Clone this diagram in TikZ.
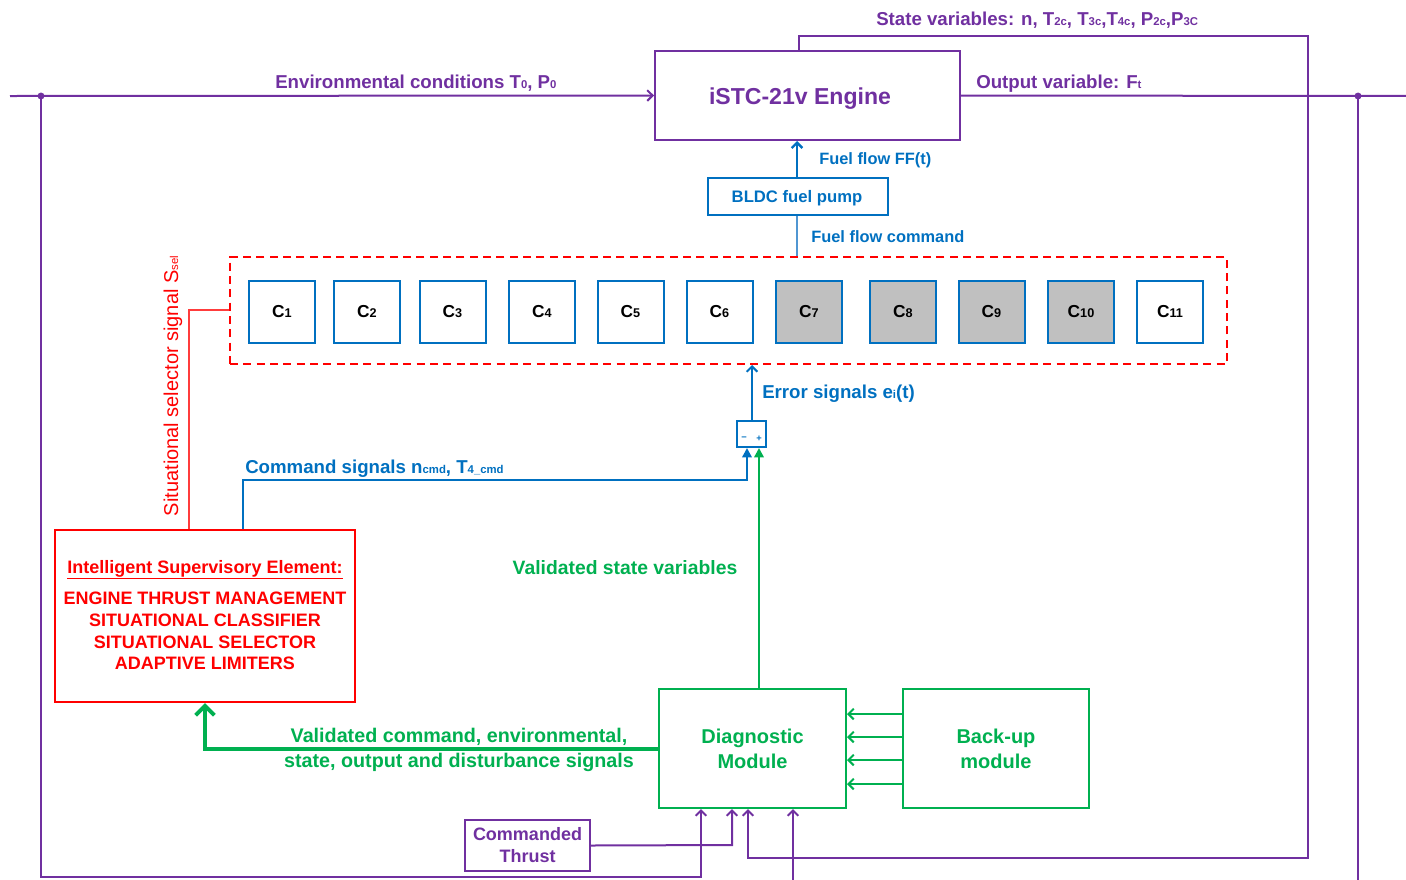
\documentclass[tikz,border=0pt]{standalone}
\usepackage{fontspec}
\setmainfont{Liberation Sans}
\usetikzlibrary{arrows.meta}
\definecolor{pur}{RGB}{112,48,160}
\definecolor{blu}{RGB}{0,112,192}
\definecolor{lblu}{RGB}{80,150,210}
\definecolor{grn}{RGB}{0,176,80}
\definecolor{rd}{RGB}{255,0,0}
\definecolor{lrd}{RGB}{255,60,60}
\definecolor{cgray}{RGB}{192,192,192}
\newcommand\lsub[1]{{\fontsize{8.5}{8.5}\selectfont #1}}
\newcommand\csub[1]{{\fontsize{9.5}{9.5}\selectfont #1}}
\tikzset{
  pline/.style={draw=pur, line width=1.5pt},
  pbox/.style={draw=pur, line width=1.5pt, text=pur, font=\bfseries, inner sep=0pt, align=center},
  bbox/.style={draw=blu, line width=1.5pt, text=blu, font=\bfseries, inner sep=0pt},
  gbox/.style={draw=grn, line width=1.5pt, text=grn, font=\bfseries\fontsize{15}{18.75}\selectfont, inner sep=0pt, align=center},
  cbox/.style={draw=blu, line width=1.5pt, minimum width=49.5pt, minimum height=46.5pt, font=\bfseries\fontsize{13}{15}\selectfont, inner sep=0pt},
  lab/.style={font=\bfseries\fontsize{14}{16}\selectfont, inner sep=0pt},
  slab/.style={font=\bfseries\fontsize{12.3}{14}\selectfont, inner sep=0pt},
  barb/.style={-{Straight Barb[length=4pt,width=8pt]}},
  bigbarb/.style={-{Straight Barb[length=7pt,width=14pt]}},
  tri/.style={-{Triangle[length=7pt,width=7pt]}},
}
\begin{document}
\begin{tikzpicture}[x=0.75pt,y=-0.75pt]
\useasboundingbox (0,0) rectangle (1406,879);

% ---------- nodes ----------
\node[pbox, minimum width=228.75pt, minimum height=66.75pt] (engine) at (807.5,95.5) {};
\node[text=pur, font=\bfseries\fontsize{17.3}{20}\selectfont, inner sep=0pt, anchor=base] (etext) at (800,104) {iSTC-21v Engine};
\node[bbox, minimum width=135pt, minimum height=27.75pt] (bldc) at (798,196.5) {};
\node[text=blu, font=\bfseries\fontsize{12.5}{14}\selectfont, inner sep=0pt, anchor=base] (bldctext) at (797,202) {BLDC fuel pump};
\node[draw=rd, line width=1.5pt, dash pattern=on 6pt off 4pt, minimum width=747.75pt, minimum height=80.25pt, inner sep=0pt] (sel) at (728.5,310.5) {};
\foreach \i/\xx/\f in {1/282/white,2/367/white,3/452.5/white,4/542/white,5/630.5/white,6/719.5/white,7/809/cgray,8/903/cgray,9/991.5/cgray,10/1081/cgray,11/1170/white}
  \node[cbox, fill=\f] (c\i) at (\xx,312) {C\csub{\i}};
\node[bbox, minimum width=21.75pt, minimum height=19.5pt] (junc) at (751.5,434) {};
\node[text=blu, font=\fontsize{7}{7}\selectfont\bfseries, inner sep=0pt] (jm) at (744,439) {−};
\node[text=blu, font=\fontsize{7}{7}\selectfont\bfseries, inner sep=0pt] (jp) at (759,439) {+};
\node[draw=rd, line width=1.5pt, minimum width=225pt, minimum height=129pt, inner sep=0pt] (ise) at (205,616) {};
\node[text=rd, font=\bfseries\fontsize{13.5}{16}\selectfont, inner sep=0pt, anchor=base] (isetitle) at (205,573) {\underline{Intelligent Supervisory Element:}};
\node[text=rd, font=\bfseries\fontsize{13.5}{16.2}\selectfont, inner sep=0pt, align=center] (isetext) at (205,631) {ENGINE THRUST MANAGEMENT\\SITUATIONAL CLASSIFIER\\SITUATIONAL SELECTOR\\ADAPTIVE LIMITERS};
\node[gbox, minimum width=140.25pt, minimum height=89.25pt] (diag) at (752.5,748.5) {Diagnostic\\Module};
\node[gbox, minimum width=139.5pt, minimum height=89.25pt] (backup) at (996,748.5) {Back-up\\module};
\node[pbox, minimum width=93.75pt, minimum height=38.25pt, font=\bfseries\fontsize{13.5}{16.5}\selectfont] (cmd) at (527.5,845.5) {Commanded\\Thrust};

% ---------- purple signal lines ----------
\coordinate (lin) at (10,96);
\coordinate (dl) at (41,96);
\coordinate (dr) at (1358,96);
\coordinate (rout) at (1414,96);
\draw[pline, barb] (lin) -- (engine.west);
\draw[pline, barb] (engine.east) -- (rout);
\fill[pur] (dl) circle (2.6pt);
\fill[pur] (dr) circle (2.6pt);
\draw[pline, barb] (engine.north -| 799,0) -- (799,36) -- (1308,36) -- (1308,858) -- (748,858) -- (diag.south -| 748,0);
\draw[pline, barb] (dl) -- (41,877) -- (701,877) -- (diag.south -| 701,0);
\draw[pline] (dr) -- (1358,885);
\draw[pline, barb] (793,885) -- (diag.south -| 793,0);
\draw[pline, barb] (cmd.east) -- (732,845) -- (diag.south -| 732,0);

% ---------- blue lines ----------
\draw[draw=lblu, line width=1.8pt] (sel.north -| 797,0) -- (bldc.south -| 797,0);
\draw[draw=blu, line width=1.8pt, barb] (bldc.north -| 797,0) -- (engine.south -| 797,0);
\draw[draw=blu, line width=1.5pt, barb] (junc.north -| 752,0) -- (sel.south -| 752,0);
\draw[draw=blu, line width=2.2pt, tri] (ise.north -| 243,0) -- (243,480) -- (747,480) -- (junc.south -| 747,0);

% ---------- green lines ----------
\draw[draw=grn, line width=2pt, tri] (diag.north -| 759,0) -- (junc.south -| 759,0);
\draw[draw=grn, line width=3pt, bigbarb] (diag.west |- 0,749) -- (205,749) -- (ise.south -| 205,0);
\foreach \yy in {714,737,760,784}
  \draw[draw=grn, line width=1.5pt, barb] (backup.west |- 0,\yy) -- (diag.east |- 0,\yy);

% ---------- red line ----------
\draw[draw=lrd, line width=2.2pt] (ise.north -| 189,0) -- (189,310) -- (sel.west |- 0,310);

% ---------- labels ----------
\node[lab, text=pur, anchor=base west] (lenv) at (275,88) {Environmental conditions T\lsub{0}, P\lsub{0}};
\node[lab, text=pur, anchor=base west] (lout) at (976,88) {Output variable: F\lsub{t}};
\node[lab, text=pur, anchor=base west] (lstate) at (876,25) {State variables: n, T\lsub{2c}, T\lsub{3c},T\lsub{4c}, P\lsub{2c},P\lsub{3C}};
\node[slab, text=blu, anchor=base west] (lff) at (819,164) {Fuel flow FF(t)};
\node[slab, text=blu, anchor=base west] (lffc) at (811,242) {Fuel flow command};
\node[lab, text=blu, anchor=base west] (lerr) at (762,398) {Error signals e\lsub{i}(t)};
\node[lab, text=blu, anchor=base west] (lcmd) at (245,473) {Command signals n\lsub{cmd}, T\lsub{4\_cmd}};
\node[lab, text=grn, anchor=base, font=\bfseries\fontsize{14.5}{16}\selectfont] (lval) at (625,574) {Validated state variables};
\node[lab, text=grn, align=center, font=\bfseries\fontsize{14.8}{18.75}\selectfont] (lvalc) at (459,750) {Validated command, environmental,\\state, output and disturbance signals};
\node[text=rd, font=\fontsize{15}{17}\selectfont, inner sep=0pt, rotate=90, anchor=base] (lssel) at (178,386) {Situational selector signal S\lsub{sel}};
\end{tikzpicture}
\end{document}
